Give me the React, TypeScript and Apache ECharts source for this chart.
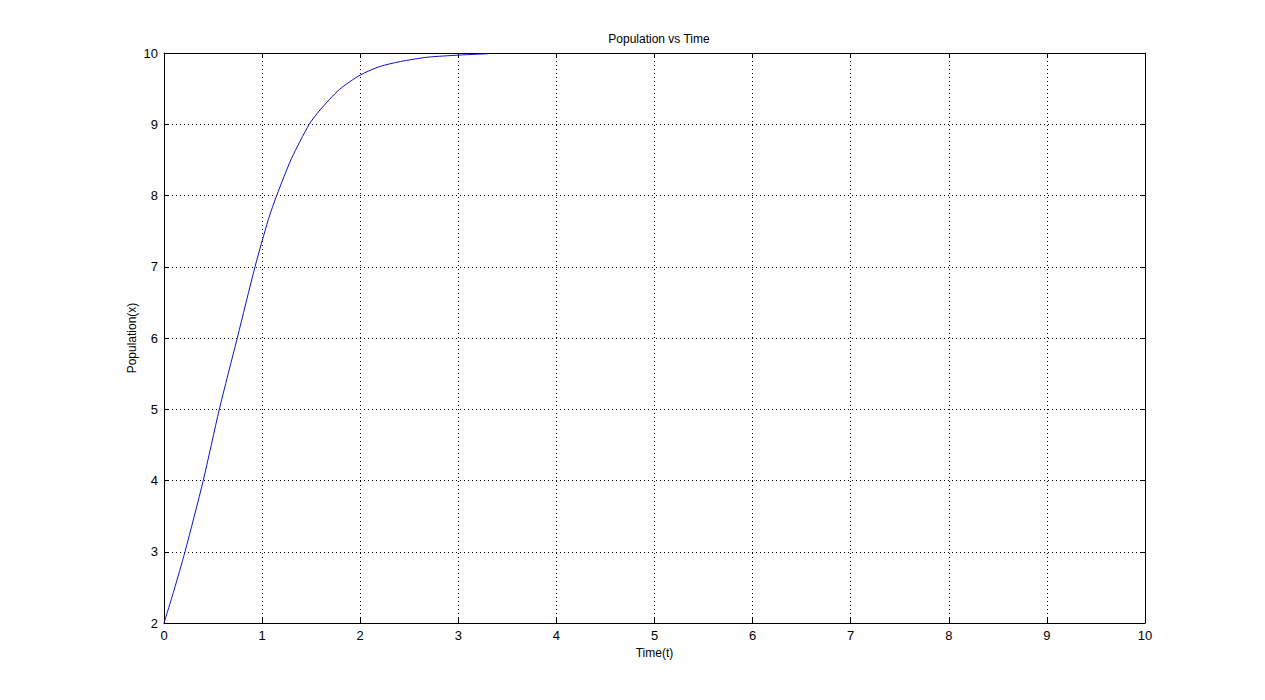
import React, { useEffect, useRef } from "react";
import * as echarts from "echarts";

const timeValues = [0, 0.1, 0.214, 0.4, 0.564, 0.747, 0.928, 1.063, 1.149, 1.3, 1.481, 1.59, 1.79, 2.0, 2.2, 2.41, 2.68, 3.0, 3.31];
const populationValues = [2.0, 2.45, 3.0, 4.0, 5.0, 6.0, 7.0, 7.66, 8.0, 8.52, 9.0, 9.2, 9.49, 9.69, 9.81, 9.88, 9.94, 9.97, 9.99];

const titleText = "Population vs Time";
const xName = "Time(t)";
const yName = "Population(x)";

export default function App() {
  const ref = useRef<HTMLDivElement>(null);
  useEffect(() => {
    if (!ref.current) return;
    const chart = echarts.init(ref.current, null, { renderer: "svg" });
    const font = "Arial, 'Liberation Sans', sans-serif";
    const gridLine = { show: true, lineStyle: { color: "#000", type: [1, 3] as any, width: 1 } };
    const axisLine = { show: true, onZero: false, lineStyle: { color: "#000", width: 1 } };
    const axisTick = { show: true, inside: true, length: 5, lineStyle: { color: "#000" } };
    chart.setOption({
      animation: false,
      backgroundColor: "#fff",
      title: {
        text: titleText,
        left: 654,
        textAlign: "center",
        top: 28,
        textStyle: { fontFamily: font, fontSize: 12, fontWeight: "normal", color: "#000" },
      },
      grid: { left: 164, right: 120, top: 53, bottom: 77, containLabel: false },
      xAxis: [
        {
          type: "value",
          min: 0,
          max: 10,
          interval: 1,
          name: xName,
          nameLocation: "middle",
          nameGap: 22,
          nameTextStyle: { fontFamily: font, fontSize: 12, color: "#000" },
          axisLine,
          axisTick,
          axisLabel: { fontFamily: font, fontSize: 13, color: "#000", margin: 6 },
          splitLine: gridLine,
        },
        {
          type: "value",
          position: "top",
          min: 0,
          max: 10,
          interval: 1,
          axisLine,
          axisTick,
          axisLabel: { show: false },
          splitLine: { show: false },
        },
      ],
      yAxis: [
        {
          type: "value",
          min: 2,
          max: 10,
          interval: 1,
          name: yName,
          nameLocation: "middle",
          nameGap: 26,
          nameMoveOverlap: false,
          nameTextStyle: { fontFamily: font, fontSize: 12, color: "#000" },
          axisLine,
          axisTick,
          axisLabel: { fontFamily: font, fontSize: 13, color: "#000", margin: 6 },
          splitLine: gridLine,
        },
        {
          type: "value",
          position: "right",
          min: 2,
          max: 10,
          interval: 1,
          axisLine,
          axisTick,
          axisLabel: { show: false },
          splitLine: { show: false },
        },
      ],
      series: [
        {
          type: "line",
          data: timeValues.map((t, i) => [t, populationValues[i]]),
          showSymbol: false,
          smooth: 0.25,
          lineStyle: { color: "#1010c8", width: 1 },
          itemStyle: { color: "#1010c8" },
          clip: false,
        },
      ],
    });
    return () => chart.dispose();
  }, []);
  return <div ref={ref} style={{ width: 1265, height: 700, position: "absolute", left: 0, top: 0 }} />;
}
